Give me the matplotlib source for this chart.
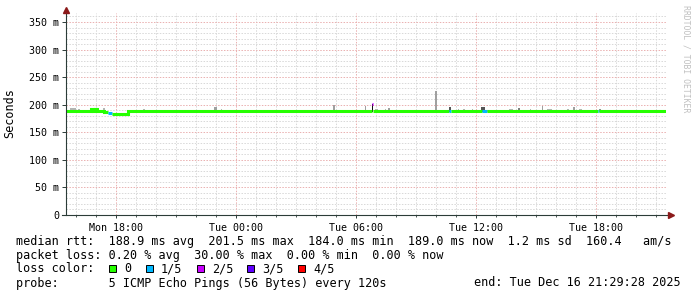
import matplotlib
matplotlib.use("Agg")
import matplotlib.pyplot as plt
from matplotlib.patches import Rectangle

# time axis in hours since Mon 00:00
t_start = 15.491
t_end = 45.491

# median rtt (ms): segment start, value, loss index
med_start = [15.49, 15.89, 16.49, 16.74, 16.84, 16.94, 17.04, 17.39, 17.59, 17.79,
             18.59, 30.79, 30.84, 34.64, 34.74, 36.29, 36.54, 37.44, 37.59, 39.49,
             39.64, 40.29, 40.49, 42.09, 42.14]
med_ms = [188.8, 188.2, 188.8, 191.5, 189.0, 191.5, 189.2, 187.0, 185.2, 183.9,
          188.6, 202.0, 188.6, 188.2, 188.6, 188.2, 188.6, 188.0, 188.6, 188.0,
          188.6, 188.0, 188.6, 188.4, 188.6]
med_loss = [0, 0, 0, 0, 0, 0, 0, 0, 1, 0,
            0, 2, 0, 1, 0, 1, 0, 0, 0, 0,
            0, 0, 0, 1, 0]

# smoke: start hour, width (h), top (ms), shade
smoke_t = [15.69, 16.09, 16.74, 17.34, 19.34, 22.89, 23.24, 28.84, 30.44, 30.79,
           30.94, 31.44, 31.59, 33.94, 34.64, 35.09, 35.34, 35.59, 35.79, 36.24,
           36.54, 36.94, 37.64, 38.09, 38.69, 39.29, 39.54, 40.54, 40.84, 41.14,
           42.14, 43.09, 43.64]
smoke_w = [0.30, 0.10, 0.05, 0.10, 0.10, 0.15, 0.05, 0.10, 0.05, 0.05,
           0.15, 0.05, 0.10, 0.10, 0.10, 0.05, 0.10, 0.10, 0.05, 0.20,
           0.35, 0.25, 0.20, 0.10, 0.05, 0.05, 0.25, 0.10, 0.10, 0.15,
           0.10, 0.05, 0.05]
smoke_top = [194, 192, 193, 194, 192, 196, 192, 200, 198, 202,
             192, 193, 194, 224, 195, 192, 192, 191, 192, 195,
             191, 191, 192, 194, 192, 198, 192, 192, 196, 192,
             193, 191, 191]
smoke_shade = ['#b4b4b4', '#b4b4b4', '#404040', '#b4b4b4', '#b4b4b4', '#a0a0a0', '#b4b4b4', '#a0a0a0', '#a0a0a0', '#101010',
               '#b4b4b4', '#b4b4b4', '#a0a0a0', '#a0a0a0', '#555555', '#b4b4b4', '#b4b4b4', '#b4b4b4', '#b4b4b4', '#555555',
               '#b4b4b4', '#b4b4b4', '#b4b4b4', '#808080', '#b4b4b4', '#a0a0a0', '#b4b4b4', '#b4b4b4', '#a0a0a0', '#b4b4b4',
               '#909090', '#b4b4b4', '#b4b4b4']

loss_labels = ['0', '1/5', '2/5', '3/5', '4/5']
loss_colors = ['#26ff00', '#00b8ff', '#c800ff', '#6000ff', '#ff0000']

x_ticks = [18, 24, 30, 36, 42]
x_labels = ['Mon 18:00', 'Tue 00:00', 'Tue 06:00', 'Tue 12:00', 'Tue 18:00']
y_ticks = [0, 50, 100, 150, 200, 250, 300, 350]
y_labels = ['0', '50 m', '100 m', '150 m', '200 m', '250 m', '300 m', '350 m']

stats_rtt = "median rtt:  188.9 ms avg  201.5 ms max  184.0 ms min  189.0 ms now  1.2 ms sd  160.4   am/s"
stats_loss = "packet loss: 0.20 % avg  30.00 % max  0.00 % min  0.00 % now"
probe_txt = "probe:       5 ICMP Echo Pings (56 Bytes) every 120s"
end_txt = "end: Tue Dec 16 21:29:28 2025"

W, H = 697, 297
mono = 'DejaVu Sans Mono'

fig = plt.figure(figsize=(W / 100, H / 100), dpi=100)
fig.patch.set_facecolor('white')
ax = fig.add_axes([66 / W, (H - 215) / H, 600 / W, 202 / H])
ax.set_xlim(t_start, t_end)
ax.set_ylim(0, 202 / 0.5514)
for s in ax.spines.values():
    s.set_visible(False)

# grid
dash = (0, (1.5, 1.5))
for h in range(16, 46):
    if h % 6 != 0:
        ax.axvline(h, color='#d8d8d8', lw=0.7, ls=dash, zorder=0)
for v in range(10, 370, 10):
    if v % 50 != 0:
        ax.axhline(v, color='#d8d8d8', lw=0.7, ls=dash, zorder=0)
for h in x_ticks:
    ax.axvline(h, color='#eab0b0', lw=0.7, ls=dash, zorder=0.5)
for v in y_ticks[1:]:
    ax.axhline(v, color='#eab0b0', lw=0.7, ls=dash, zorder=0.5)

# smoke
for t, w, top, c in zip(smoke_t, smoke_w, smoke_top, smoke_shade):
    ax.bar(t, top - 186, bottom=186, width=w, align='edge', color=c, lw=0, zorder=2)

# median line, split by loss colour
edges = med_start + [t_end]
i = 0
n = len(med_ms)
while i < n:
    j = i
    while j + 1 < n and med_loss[j + 1] == med_loss[i]:
        j += 1
    xs = edges[i:j + 2]
    ys = med_ms[i:j + 1] + [med_ms[j]]
    ax.plot(xs, ys, drawstyle='steps-post', color=loss_colors[med_loss[i]],
            lw=2.2, solid_capstyle='butt', solid_joinstyle='miter', zorder=3)
    i = j + 1

# axes lines and arrows
ax.plot([0, 0], [0, 1.0], transform=ax.transAxes, color='#2c3c38', lw=0.8, clip_on=False, zorder=4)
ax.plot([-0.006, 1.008], [0, 0], transform=ax.transAxes, color='#2c3c38', lw=0.8, clip_on=False, zorder=4)
ax.plot([0], [1.015], marker='^', ms=4, color='#8b1a1a', transform=ax.transAxes, clip_on=False, zorder=5)
ax.plot([1.009], [0], marker='>', ms=4, color='#8b1a1a', transform=ax.transAxes, clip_on=False, zorder=5)

ax.set_xticks(x_ticks)
ax.set_xticklabels(x_labels, family=mono, fontsize=7.2)
ax.set_yticks(y_ticks)
ax.set_yticklabels(y_labels, family=mono, fontsize=7.2)
ax.tick_params(axis='y', length=3, width=0.7, color='#2c3c38', pad=2)
ax.tick_params(axis='x', length=2, width=0.7, color='#2c3c38', pad=4)
ax.set_xticks(range(16, 46), minor=True)
ax.tick_params(axis='x', which='minor', length=1.5, width=0.6, color='#2c3c38')

fig.text(10 / W, 1 - 113 / H, 'Seconds', rotation=90, family=mono, fontsize=8.5,
         ha='center', va='center')
fig.text(686 / W, 1 - 5 / H, 'RRDTOOL / TOBI OETIKER', rotation=270, family=mono,
         fontsize=5.9, color='#c0c0c0', ha='center', va='top')

# legend block
fs = 8.45
fig.text(16 / W, 1 - 241 / H, stats_rtt, family=mono, fontsize=fs, va='center')
fig.text(16 / W, 1 - 255 / H, stats_loss, family=mono, fontsize=fs, va='center')
fig.text(16 / W, 1 - 269 / H, 'loss color:', family=mono, fontsize=fs, va='center')
box_x = [109, 146, 197, 247, 298]
for bx, lab, col in zip(box_x, loss_labels, loss_colors):
    fig.patches.append(Rectangle((bx / W, 1 - 272 / H), 7 / W, 7 / H,
                                 transform=fig.transFigure, facecolor=col,
                                 edgecolor='black', lw=0.7))
    fig.text((bx + 15) / W, 1 - 269 / H, lab, family=mono, fontsize=fs, va='center')
fig.text(16 / W, 1 - 283 / H, probe_txt, family=mono, fontsize=fs, va='center')
fig.text(681 / W, 1 - 283 / H, end_txt, family=mono, fontsize=fs, va='center', ha='right')

fig.savefig('out.png', dpi=100, facecolor='white')
